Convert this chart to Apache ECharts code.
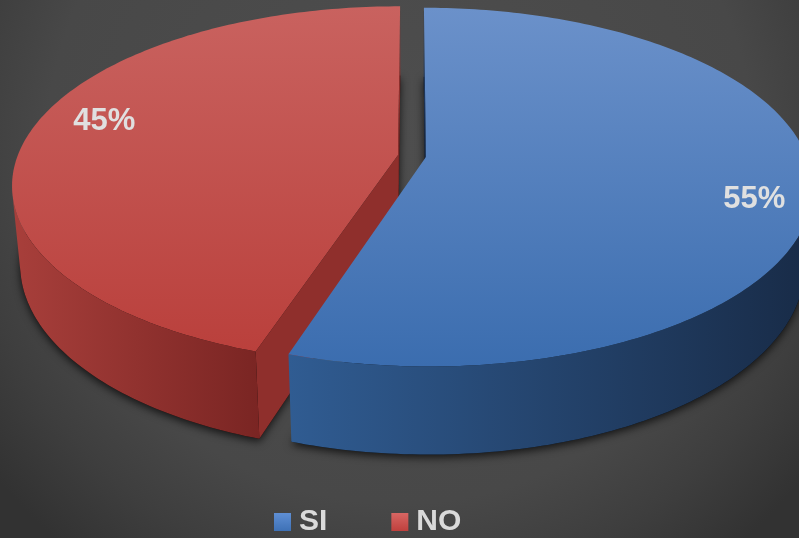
<!DOCTYPE html>
<html>
<head>
<meta charset="utf-8">
<script src="https://cdn.jsdelivr.net/npm/echarts@6/dist/echarts.min.js"></script>
<style>
  html, body { margin: 0; padding: 0; background: #3a3a3a; }
  #chart { width: 799px; height: 538px; }
</style>
</head>
<body>
<div id="chart"></div>
<script>
// Survey answers
const categories = ['SI', 'NO'];
const values = [55, 45];

// Per-category palette: top face (top -> bottom), outer wall (left -> right), cut face
const faceColors = [['#6b91ca', '#3b6daf'], ['#c9625f', '#ba403c']];
const wallColors = [['#305c92', '#182b47'], ['#a83f3b', '#7a2523']];
const cutColors = ['#1d355a', '#8f2f2c'];
const legendColors = [['#5f8fd4', '#3e71b6'], ['#d86663', '#bf403d']];

const FONT = '"Liberation Sans", Arial, sans-serif';

// Camera / solid set-up for the tilted, exploded disc
const VIEW = {
  cx: 412, cy: 156,      // screen position of the disc centre
  focal: 2017,           // focal length in px
  dist: 5.30,            // camera distance, in disc radii
  tilt: 27.2,            // camera elevation, degrees
  thickness: 0.234,      // disc height, in radii
  explode: 0.037,        // slice pull-out, in radii
  labelRadius: 0.845,
  labelShift: 6,         // degrees
  labelOffset: [5, 3]    // px
};
const S = Math.sin(VIEW.tilt * Math.PI / 180);
const C = Math.cos(VIEW.tilt * Math.PI / 180);
const rad = d => d * Math.PI / 180;

function project(x, y, z) {
  const depth = VIEW.dist - y * S - z * C;
  const up = y * C - z * S;
  return [VIEW.cx + VIEW.focal * x / depth, VIEW.cy - VIEW.focal * up / depth];
}

// Angular layout, clockwise from the back of the disc
const total = values.reduce((a, b) => a + b, 0);
const slices = [];
let acc = 0;
values.forEach((v, i) => {
  const start = acc / total * 360;
  acc += v;
  const end = acc / total * 360;
  const mid = (start + end) / 2;
  slices.push({
    index: i, start, end, mid,
    ox: VIEW.explode * Math.sin(rad(mid)),
    oz: -VIEW.explode * Math.cos(rad(mid))
  });
});

function rim(g, phi, y) {
  return project(g.ox + Math.sin(rad(phi)), y, g.oz - Math.cos(rad(phi)));
}
function samples(g) {
  const out = [];
  const n = Math.max(2, Math.ceil(g.end - g.start));
  for (let k = 0; k <= n; k++) out.push(g.start + (g.end - g.start) * k / n);
  return out;
}
function wallVisible(g, phi) {
  const dot = -1 - g.ox * Math.sin(rad(phi)) - Math.cos(rad(phi)) * (VIEW.dist * C - g.oz);
  return dot > 0;
}
function cutVisible(g, phi, isStart) {
  const sgn = isStart ? -1 : 1;
  const nx = sgn * Math.cos(rad(phi)), nz = sgn * Math.sin(rad(phi));
  return nx * (0 - g.ox) + nz * (VIEW.dist * C - g.oz) > 0;
}

const lin = (c, horiz) => new echarts.graphic.LinearGradient(0, 0, horiz ? 1 : 0, horiz ? 0 : 1,
  [{ offset: 0, color: c[0] }, { offset: 1, color: c[1] }]);

function sliceShape(g) {
  const H = -VIEW.thickness;
  const children = [];
  const phis = samples(g);

  // outer curved wall, only the part turned towards the camera
  let run = [];
  const flush = () => {
    if (run.length >= 2) {
      const pts = run.map(p => rim(g, p, 0)).concat(run.slice().reverse().map(p => rim(g, p, H)));
      children.push({ type: 'polygon', shape: { points: pts },
        style: { fill: lin(wallColors[g.index], true), stroke: null } });
    }
    run = [];
  };
  phis.forEach(p => { if (wallVisible(g, p)) run.push(p); else flush(); });
  flush();

  // radial cut faces
  [[g.start, true], [g.end, false]].forEach(([phi, isStart]) => {
    if (!cutVisible(g, phi, isStart)) return;
    const pts = [project(g.ox, 0, g.oz), rim(g, phi, 0), rim(g, phi, H), project(g.ox, H, g.oz)];
    children.push({ type: 'polygon', shape: { points: pts },
      style: { fill: cutColors[g.index], stroke: null } });
  });

  // top face
  const top = [project(g.ox, 0, g.oz)].concat(phis.map(p => rim(g, p, 0)));
  children.push({ type: 'polygon', shape: { points: top },
    style: { fill: lin(faceColors[g.index], false), stroke: null } });

  // percentage label
  const la = g.mid + VIEW.labelShift;
  const lp = project(g.ox + VIEW.labelRadius * Math.sin(rad(la)), 0,
                     g.oz - VIEW.labelRadius * Math.cos(rad(la)));
  children.push({ type: 'text', style: {
    text: Math.round(values[g.index] / total * 100) + '%',
    x: lp[0] + VIEW.labelOffset[0], y: lp[1] + VIEW.labelOffset[1],
    fill: '#e0e0e0', align: 'center', verticalAlign: 'middle',
    fontSize: 31, fontWeight: 'bold', fontFamily: FONT } });

  return { type: 'group', children };
}

function shadowShape() {
  const H = -VIEW.thickness;
  return { type: 'group', children: slices.map(g => {
    const pts = [project(g.ox, H, g.oz)].concat(samples(g).map(p => rim(g, p, H)));
    return { type: 'polygon', shape: { points: pts },
      style: { fill: 'rgba(0,0,0,0.85)', shadowBlur: 9, shadowColor: 'rgba(0,0,0,0.85)',
               shadowOffsetY: 3 } };
  }) };
}

// back slices first
const drawOrder = slices.slice().sort((a, b) => (a.oz - b.oz));

const series = [{
  type: 'custom', name: '__shadow', coordinateSystem: 'none', z: 1, silent: true,
  data: [[0]], renderItem: () => shadowShape()
}].concat(drawOrder.map((g, k) => ({
  type: 'custom', name: categories[g.index], coordinateSystem: 'none', z: 2 + k, silent: true,
  itemStyle: { color: lin(legendColors[g.index], false) },
  data: [[values[g.index]]],
  renderItem: () => sliceShape(g)
})));

const chart = echarts.init(document.getElementById('chart'), null, { renderer: 'canvas' });
chart.setOption({
  animation: false,
  backgroundColor: new echarts.graphic.RadialGradient(400, 150, 520, [
    { offset: 0, color: '#4e4e4e' },
    { offset: 0.68, color: '#484848' },
    { offset: 0.84, color: '#3e3e3e' },
    { offset: 1, color: '#323232' }
  ], true),
  legend: {
    left: 274, top: 507, padding: 0,
    icon: 'rect', itemWidth: 17, itemHeight: 18, itemGap: 64,
    textStyle: { color: '#dadada', fontSize: 30, fontWeight: 'bold', fontFamily: FONT, padding: [0, 0, 0, 3] },
    data: categories.map((c, i) => ({ name: c, itemStyle: { color: lin(legendColors[i], false) } }))
  },
  series
});
</script>
</body>
</html>
